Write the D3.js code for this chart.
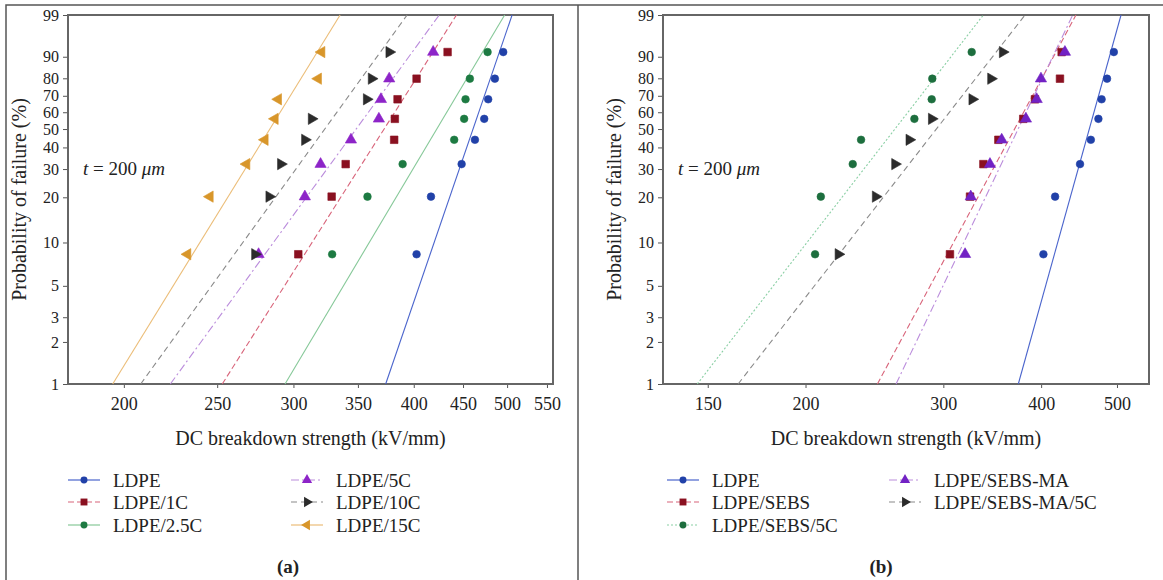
<!DOCTYPE html>
<html><head><meta charset="utf-8">
<script src="https://cdn.jsdelivr.net/npm/d3@7"></script>
<style>
html,body{margin:0;padding:0;background:#fff;}
svg{display:block;}
svg text{font-family:"Liberation Serif","Tinos","DejaVu Serif","Noto Serif","Times New Roman",serif !important;}
</style></head>
<body>
<svg id="chart" width="1163" height="580"></svg>
<script>
// ---------- DATA ----------
const probTicks = [1, 2, 3, 5, 10, 20, 30, 40, 50, 60, 70, 80, 90, 99];
const rankProbs = [8.3, 20.2, 32.1, 44.0, 56.0, 67.9, 79.8, 91.7];

// panel (a)
const seriesA = ["LDPE", "LDPE/1C", "LDPE/2.5C", "LDPE/5C", "LDPE/10C", "LDPE/15C"];
const ldpe     = [402.7, 416.8, 448.5, 463.0, 473.4, 477.9, 485.6, 495.4];
const ldpe1C   = [303.5, 328.7, 339.9, 381.7, 382.3, 384.8, 402.7, 433.7];
const ldpe25C  = [329.1, 358.1, 389.5, 440.6, 451.2, 452.7, 457.4, 477.2];
const ldpe5C   = [276.0, 308.3, 320.1, 344.2, 368.0, 369.8, 377.2, 419.0];
const ldpe10C  = [273.6, 283.1, 291.1, 308.3, 313.3, 357.4, 361.6, 377.2];
const ldpe15C  = [232.9, 245.7, 268.2, 280.2, 287.0, 289.3, 318.3, 320.9];
const scaleA   = [469.3, 385.3, 436.1, 362.2, 335.9, 292.9];   // Weibull alpha
const shapeA   = [20.27, 10.94, 11.67, 9.53, 9.62, 11.27];     // Weibull beta
const xTicksA  = [200, 250, 300, 350, 400, 450, 500, 550];

// panel (b)
const seriesB  = ["LDPE", "LDPE/SEBS", "LDPE/SEBS/5C", "LDPE/SEBS-MA", "LDPE/SEBS-MA/5C"];
const sebs     = [305.9, 324.5, 337.5, 352.7, 379.5, 392.8, 422.8, 424.9];
const sebs5C   = [205.7, 209.2, 229.8, 235.5, 275.5, 289.9, 290.4, 326.1];
const sebsMA   = [319.8, 325.2, 344.1, 356.2, 382.5, 394.8, 399.8, 429.0];
const sebsMA5C = [220.3, 245.8, 260.2, 271.4, 289.9, 326.6, 345.1, 357.2];
const scaleB   = [469.3, 383.1, 273.6, 385.6, 309.1];
const shapeB   = [20.27, 10.49, 7.28, 11.79, 7.26];
const xTicksB  = [150, 200, 300, 400, 500];

// ---------- STYLES ----------
const styleA = [
  {m:"circle", fill:"#2141a8", line:"#4a64cc", dash:null},
  {m:"square", fill:"#8a1020", line:"#d8647a", dash:"6,3"},
  {m:"circle", fill:"#1d7a42", line:"#86c898", dash:null},
  {m:"up",     fill:"#8d24c8", line:"#bb8ddc", dash:"8,3,2,3"},
  {m:"right",  fill:"#2b2b2b", line:"#8a8a8a", dash:"6,4"},
  {m:"left",   fill:"#d8962a", line:"#ebbd78", dash:null}
];
const styleB = [
  {m:"circle", fill:"#2141a8", line:"#4a64cc", dash:null},
  {m:"square", fill:"#8a1020", line:"#d8647a", dash:"6,3"},
  {m:"circle", fill:"#1d6e3e", line:"#8acfa4", dash:"2,2"},
  {m:"up",     fill:"#7222c4", line:"#bb8ddc", dash:"8,3,2,3"},
  {m:"right",  fill:"#2b2b2b", line:"#8a8a8a", dash:"6,4"}
];

const svg = d3.select("#chart");
const W = p => Math.log(-Math.log(1 - p / 100));
const TOP = 15, BOTTOM = 384;
const yScale = d3.scaleLinear().domain([W(1), W(99)]).range([BOTTOM, TOP]);

// outer frame
svg.append("path").attr("d", "M6,580 V5 H1163 M578,5 V580")
  .attr("fill", "none").attr("stroke", "#555").attr("stroke-width", 1.5);

function symbolPath(kind, size) {
  const map = {circle: d3.symbolCircle, square: d3.symbolSquare,
               up: d3.symbolTriangle, right: d3.symbolTriangle, left: d3.symbolTriangle};
  const sz = {circle: size, square: size * 1.25, up: size * 1.2, right: size * 1.2, left: size * 1.2}[kind];
  return d3.symbol().type(map[kind]).size(sz)();
}
function rot(kind) { return kind === "right" ? 90 : kind === "left" ? -90 : 0; }

function drawPanel(cfg) {
  const g = svg.append("g");
  const x = d3.scaleLog().domain(cfg.domain).range([cfg.left, cfg.right]);

  // y axis
  const ya = d3.axisLeft(yScale).tickValues(probTicks.map(W)).tickSize(5).tickPadding(4)
    .tickFormat(d => String(Math.round(100 * (1 - Math.exp(-Math.exp(d))))));
  const gy = g.append("g").attr("transform", `translate(${cfg.left},0)`).call(ya);
  gy.select(".domain").remove();
  gy.selectAll(".tick line").attr("stroke", "#555");
  gy.selectAll(".tick text").attr("font-size", 16).attr("fill", "#222");

  // x axis
  const xa = d3.axisBottom(x).tickValues(cfg.ticks).tickSize(4).tickPadding(9)
    .tickFormat(d3.format("d"));
  const gx = g.append("g").attr("transform", `translate(0,${BOTTOM})`).call(xa);
  gx.select(".domain").remove();
  gx.selectAll(".tick line").attr("stroke", "#555");
  gx.selectAll(".tick text").attr("font-size", 18).attr("fill", "#222");

  // frame
  g.append("rect").attr("x", cfg.left).attr("y", TOP)
    .attr("width", cfg.right - cfg.left).attr("height", BOTTOM - TOP)
    .attr("fill", "none").attr("stroke", "#666").attr("stroke-width", 2);

  // fit lines
  const line = d3.line().x(d => x(d[0])).y(d => yScale(W(d[1])));
  cfg.series.forEach((s, i) => {
    const a = cfg.scales[i], b = cfg.shapes[i];
    const pts = [1, 99].map(p => [a * Math.pow(-Math.log(1 - p / 100), 1 / b), p]);
    g.append("path").attr("d", line(pts)).attr("fill", "none")
      .attr("stroke", cfg.styles[i].line).attr("stroke-width", 1.1)
      .attr("stroke-dasharray", cfg.styles[i].dash);
  });

  // points
  cfg.series.forEach((s, i) => {
    const st = cfg.styles[i];
    g.append("g").selectAll("path").data(cfg.values[i]).join("path")
      .attr("d", symbolPath(st.m, 46))
      .attr("transform", (d, k) => `translate(${x(d)},${yScale(W(rankProbs[k]))}) rotate(${rot(st.m)})`)
      .attr("fill", st.fill).attr("stroke", st.fill).attr("stroke-width", 0.6);
  });

  // annotation
  const t = g.append("text").attr("x", cfg.left + 15).attr("y", yScale(W(30)) + 6)
    .attr("font-size", 19).attr("fill", "#222");
  t.append("tspan").attr("font-style", "italic").text("t");
  t.append("tspan").text(" = 200 ");
  t.append("tspan").attr("font-style", "italic").text("μm");

  // axis titles
  g.append("text").attr("x", (cfg.left + cfg.right) / 2).attr("y", 445)
    .attr("text-anchor", "middle").attr("font-size", 20).attr("fill", "#222")
    .text("DC breakdown strength (kV/mm)");
  g.append("text").attr("transform", `translate(${cfg.left - 49},${(TOP + BOTTOM) / 2}) rotate(-90)`)
    .attr("text-anchor", "middle").attr("dy", "0.35em").attr("font-size", 20).attr("fill", "#222")
    .text("Probability of failure (%)");

  // legend
  const rows = [480, 502, 525];
  cfg.series.forEach((s, i) => {
    const col = i < 3 ? 0 : 1, row = i % 3;
    const lx0 = cfg.leg[col], y = rows[row];
    const st = cfg.styles[i];
    g.append("line").attr("x1", lx0).attr("x2", lx0 + 32).attr("y1", y).attr("y2", y)
      .attr("stroke", st.line).attr("stroke-width", 1.2).attr("stroke-dasharray", st.dash);
    g.append("path").attr("d", symbolPath(st.m, 38))
      .attr("transform", `translate(${lx0 + 16},${y}) rotate(${rot(st.m)})`)
      .attr("fill", st.fill);
    g.append("text").attr("x", lx0 + 45).attr("y", y).attr("dy", "0.35em")
      .attr("font-size", 19).attr("fill", "#222").text(s);
  });

  g.append("text").attr("x", cfg.label[0]).attr("y", 573).attr("text-anchor", "middle")
    .attr("font-size", 19).attr("font-weight", "bold").attr("fill", "#222").text(cfg.label[1]);
}

drawPanel({
  left: 68, right: 553, domain: [175, 558], ticks: xTicksA,
  series: seriesA, values: [ldpe, ldpe1C, ldpe25C, ldpe5C, ldpe10C, ldpe15C],
  scales: scaleA, shapes: shapeA, styles: styleA,
  leg: [68, 291], label: [288, "(a)"]
});
drawPanel({
  left: 663, right: 1149, domain: [131.5, 549.4], ticks: xTicksB,
  series: seriesB, values: [ldpe, sebs, sebs5C, sebsMA, sebsMA5C],
  scales: scaleB, shapes: shapeB, styles: styleB,
  leg: [667, 889], label: [881, "(b)"]
});
</script>
</body></html>
